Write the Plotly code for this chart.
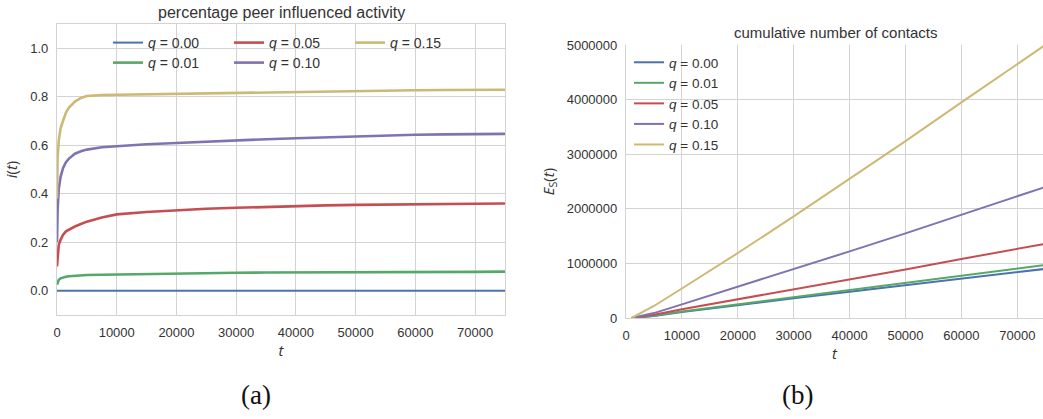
import plotly.graph_objects as go

# ---------- data ----------
q_labels = ["0.00", "0.01", "0.05", "0.10", "0.15"]
colors = ["#4C72B0", "#55A868", "#C44E52", "#8172B2", "#CCB974"]

t_i = [0, 100, 300, 600, 1000, 1500, 2000, 3000, 4000, 5000, 7500, 10000, 15000,
       20000, 25000, 30000, 35000, 40000, 45000, 50000, 55000, 60000, 65000, 70000, 75000]
i_q000 = [0.0] * 25
i_q001 = [0.025, 0.035, 0.045, 0.051, 0.055, 0.058, 0.060, 0.062, 0.064, 0.065, 0.066, 0.067, 0.070,
          0.072, 0.073, 0.074, 0.075, 0.075, 0.076, 0.077, 0.077, 0.077, 0.078, 0.078, 0.079]
i_q005 = [0.10, 0.15, 0.19, 0.21, 0.23, 0.245, 0.252, 0.265, 0.275, 0.285, 0.302, 0.315, 0.325,
          0.332, 0.338, 0.342, 0.346, 0.349, 0.352, 0.354, 0.356, 0.357, 0.358, 0.359, 0.360]
i_q010 = [0.20, 0.33, 0.42, 0.47, 0.505, 0.53, 0.545, 0.565, 0.575, 0.582, 0.592, 0.597, 0.604,
          0.609, 0.615, 0.620, 0.625, 0.629, 0.633, 0.637, 0.640, 0.643, 0.645, 0.646, 0.647]
i_q015 = [0.38, 0.55, 0.62, 0.67, 0.70, 0.735, 0.755, 0.78, 0.795, 0.803, 0.807, 0.808, 0.810,
          0.812, 0.815, 0.818, 0.820, 0.822, 0.824, 0.825, 0.826, 0.827, 0.828, 0.828, 0.829]
i_series = [i_q000, i_q001, i_q005, i_q010, i_q015]

t_e = [1000, 5000, 10000, 20000, 30000, 40000, 50000, 60000, 70000, 75000]
e_q000 = [0, 38000, 110000, 240000, 360000, 480000, 600000, 720000, 840000, 900000]
e_q001 = [0, 40000, 120000, 250000, 380000, 510000, 640000, 770000, 900000, 970000]
e_q005 = [0, 60000, 160000, 340000, 520000, 710000, 890000, 1080000, 1260000, 1360000]
e_q010 = [0, 90000, 250000, 570000, 890000, 1220000, 1550000, 1890000, 2230000, 2400000]
e_q015 = [0, 220000, 540000, 1190000, 1860000, 2550000, 3240000, 3950000, 4650000, 5000000]
e_series = [e_q000, e_q001, e_q005, e_q010, e_q015]

x_ticks = [0, 10000, 20000, 30000, 40000, 50000, 60000, 70000]
i_ticks = [0.0, 0.2, 0.4, 0.6, 0.8, 1.0]
e_ticks = [0, 1000000, 2000000, 3000000, 4000000, 5000000]

# ---------- figure ----------
fig = go.Figure()

# left legend split: row 1 -> 0.00, 0.05, 0.15 ; row 2 -> 0.01, 0.10
left_legend = ["legend", "legend2", "legend", "legend2", "legend"]
widths_i = [2, 2.6, 2.6, 2.6, 2.6]
for k in range(5):
    fig.add_trace(go.Scatter(
        x=t_i, y=i_series[k], mode="lines", xaxis="x", yaxis="y",
        line=dict(color=colors[k], width=widths_i[k]),
        name="<i>q</i> = " + q_labels[k], legend=left_legend[k]))

for k in range(5):
    fig.add_trace(go.Scatter(
        x=t_e, y=e_series[k], mode="lines", xaxis="x2", yaxis="y2",
        line=dict(color=colors[k], width=2),
        name="<i>q</i> = " + q_labels[k], legend="legend3"))

W, H = 1043, 419
grid = "#d3d3d3"
SANS = "Liberation Sans, Arial, sans-serif"
tickfont = dict(family=SANS, size=13, color="#333333")
axcommon = dict(showgrid=True, gridcolor=grid, gridwidth=1.2, zeroline=False,
                showline=True, linecolor=grid, linewidth=1.2, automargin=False,
                ticks="outside", ticklen=5, tickcolor="rgba(0,0,0,0)",
                tickfont=tickfont)

def px_x(p):
    return p / W

def px_y(p):
    return 1 - p / H

legfont = dict(family=SANS, size=14, color="#333333")

fig.update_layout(
    width=W, height=H,
    margin=dict(l=0, r=0, t=0, b=0, autoexpand=False),
    paper_bgcolor="white", plot_bgcolor="white",
    xaxis=dict(domain=[px_x(57), px_x(505)], range=[0, 75000], anchor="y",
               tickvals=x_ticks, ticktext=[str(v) for v in x_ticks], mirror=True,
               title=dict(text="<i>t</i>", font=dict(size=15, color="#333333"), standoff=4),
               **axcommon),
    yaxis=dict(domain=[px_y(315), px_y(24)], range=[-0.1, 1.1], anchor="x",
               tickvals=i_ticks, ticktext=["%.1f" % v for v in i_ticks], mirror=True,
               title=dict(text="<i>i</i>(<i>t</i>)", font=dict(size=15, color="#333333"), standoff=8),
               **axcommon),
    xaxis2=dict(domain=[px_x(626), 1.0], range=[0, 74600], anchor="y2",
                tickvals=x_ticks, ticktext=[str(v) for v in x_ticks],
                title=dict(text="<i>t</i>", font=dict(size=15, color="#333333"), standoff=4),
                **axcommon),
    yaxis2=dict(domain=[px_y(318), px_y(45)], range=[0, 5000000], anchor="x2",
                tickvals=e_ticks, ticktext=[str(v) for v in e_ticks],
                title=dict(text="<i>E</i><sub>S</sub>(<i>t</i>)", font=dict(size=15, color="#333333"), standoff=8),
                **axcommon),
    legend=dict(orientation="h", x=px_x(108), y=px_y(27), xanchor="left", yanchor="top",
                entrywidth=76, entrywidthmode="pixels", bgcolor="rgba(0,0,0,0)",
                font=legfont, tracegroupgap=0),
    legend2=dict(orientation="h", x=px_x(108), y=px_y(47), xanchor="left", yanchor="top",
                 entrywidth=76, entrywidthmode="pixels", bgcolor="rgba(0,0,0,0)",
                 font=legfont, tracegroupgap=0),
    legend3=dict(orientation="v", x=px_x(629), y=px_y(47), xanchor="left", yanchor="top",
                 bgcolor="rgba(0,0,0,0)", font=dict(family=SANS, size=13.5, color="#333333"),
                 tracegroupgap=0),
    showlegend=True,
    annotations=[
        dict(text="percentage peer influenced activity", x=px_x(281), y=px_y(12),
             xref="paper", yref="paper", showarrow=False, xanchor="center", yanchor="middle",
             font=dict(family=SANS, size=16, color="#333333")),
        dict(text="cumulative number of contacts", x=px_x(835), y=px_y(33),
             xref="paper", yref="paper", showarrow=False, xanchor="center", yanchor="middle",
             font=dict(family=SANS, size=15, color="#333333")),
        dict(text="(a)", x=px_x(256), y=px_y(395), xref="paper", yref="paper",
             showarrow=False, xanchor="center", yanchor="middle",
             font=dict(family="Liberation Serif, DejaVu Serif, serif", size=27, color="#111111")),
        dict(text="(b)", x=px_x(797), y=px_y(395), xref="paper", yref="paper",
             showarrow=False, xanchor="center", yanchor="middle",
             font=dict(family="Liberation Serif, DejaVu Serif, serif", size=27, color="#111111")),
    ],
)

fig.write_html("out.html")
